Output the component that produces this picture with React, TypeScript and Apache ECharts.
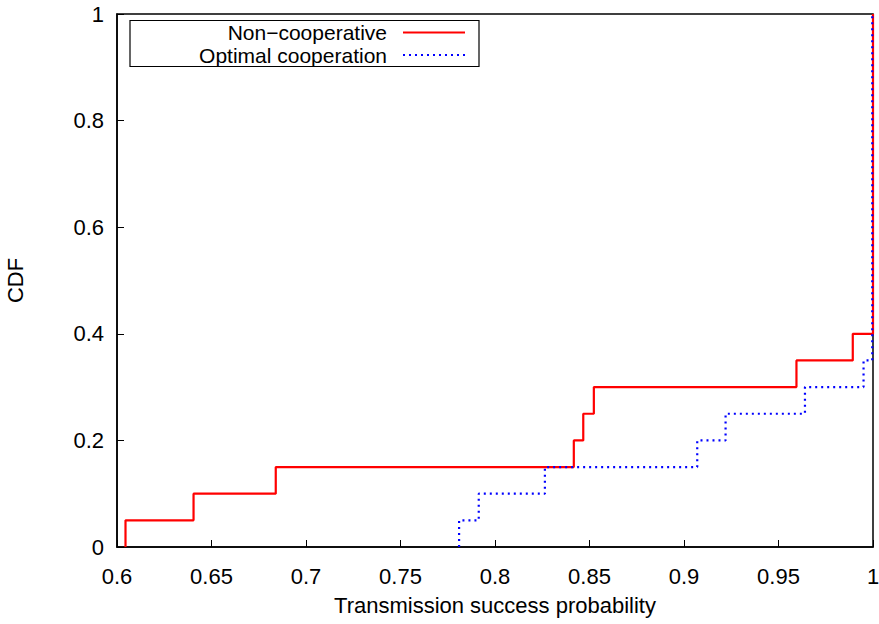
import React, { useEffect, useRef } from "react";
import * as echarts from "echarts";

// CDF step points: x = transmission success probability, y = cumulative fraction
const nonCoopX = [0.6045, 0.6045, 0.6405, 0.684, 0.8417, 0.8467, 0.8523, 0.9595, 0.9893, 1.0];
const nonCoopY = [0, 0.05, 0.1, 0.15, 0.2, 0.25, 0.3, 0.35, 0.4, 1.0];
const optCoopX = [0.781, 0.781, 0.7914, 0.8264, 0.907, 0.922, 0.964, 0.995, 0.9996];
const optCoopY = [0, 0.05, 0.1, 0.15, 0.2, 0.25, 0.3, 0.35, 1.0];

const seriesNames = ["Non\u2212cooperative", "Optimal cooperation"];
const xTitle = "Transmission success probability";
const yTitle = "CDF";

const FONT = "Liberation Sans";
const FS = 22;
const LEGEND_FS = 21;

export default function App() {
  const ref = useRef<HTMLDivElement>(null);
  useEffect(() => {
    if (!ref.current) return;
    const chart = echarts.init(ref.current, undefined, { renderer: "svg" });
    const zip = (xs: number[], ys: number[]) => xs.map((x, i) => [x, ys[i]]);
    chart.setOption({
      animation: false,
      backgroundColor: "#ffffff",
      textStyle: { fontFamily: FONT },
      grid: {
        left: 117,
        right: 6,
        top: 14,
        bottom: 77,
        show: true,
        borderColor: "#000",
        borderWidth: 1.5,
        containLabel: false,
        outerBoundsMode: "none",
      },
      xAxis: {
        type: "value",
        min: 0.6,
        max: 1,
        interval: 0.05,
        name: xTitle,
        nameLocation: "middle",
        nameGap: 47,
        nameTextStyle: { fontFamily: FONT, fontSize: FS, color: "#000" },
        axisLine: { show: true, lineStyle: { color: "#000", width: 1.5 } },
        axisTick: { show: true, inside: true, length: 7, lineStyle: { color: "#000", width: 1 } },
        axisLabel: {
          fontFamily: FONT,
          fontSize: FS,
          color: "#000",
          margin: 18,
          formatter: (v: number) => String(+v.toFixed(2)),
        },
        splitLine: { show: false },
      },
      yAxis: {
        type: "value",
        min: 0,
        max: 1,
        interval: 0.2,
        name: yTitle,
        nameLocation: "middle",
        nameGap: 91,
        nameRotate: 90,
        nameTextStyle: { fontFamily: FONT, fontSize: FS, color: "#000" },
        axisLine: { show: true, lineStyle: { color: "#000", width: 1.5 } },
        axisTick: { show: true, inside: true, length: 7, lineStyle: { color: "#000", width: 1 } },
        axisLabel: {
          fontFamily: FONT,
          fontSize: FS,
          color: "#000",
          margin: 13,
          formatter: (v: number) => String(+v.toFixed(1)),
        },
        splitLine: { show: false },
      },
      series: [
        {
          name: seriesNames[0],
          type: "line",
          step: "end",
          data: zip(nonCoopX, nonCoopY),
          showSymbol: false,
          symbol: "none",
          lineStyle: { color: "#ff0000", width: 2.2 },
          z: 2,
        },
        {
          name: seriesNames[1],
          type: "line",
          step: "end",
          data: zip(optCoopX, optCoopY),
          showSymbol: false,
          symbol: "none",
          lineStyle: { color: "#0000ff", width: 2.2, type: [2, 4] },
          z: 3,
        },
      ],
      graphic: [
        {
          type: "rect",
          shape: { x: 130, y: 20.5, width: 349, height: 46 },
          style: { fill: "#fff", stroke: "#000", lineWidth: 1.2 },
          z: 10,
        },
        {
          type: "text",
          x: 387,
          y: 32,
          style: {
            text: seriesNames[0],
            align: "right",
            verticalAlign: "middle",
            fontFamily: FONT,
            fontSize: LEGEND_FS,
            lineHeight: 20,
            fill: "#000",
          },
          z: 11,
        },
        {
          type: "text",
          x: 387,
          y: 55.5,
          style: {
            text: seriesNames[1],
            align: "right",
            verticalAlign: "middle",
            fontFamily: FONT,
            fontSize: LEGEND_FS,
            lineHeight: 20,
            fill: "#000",
          },
          z: 11,
        },
        {
          type: "line",
          shape: { x1: 403, y1: 32.5, x2: 465, y2: 32.5 },
          style: { stroke: "#ff0000", lineWidth: 2.2 },
          z: 11,
        },
        {
          type: "line",
          shape: { x1: 403, y1: 55, x2: 465, y2: 55 },
          style: { stroke: "#0000ff", lineWidth: 2.2, lineDash: [2, 4] },
          z: 11,
        },
      ],
    });
    return () => chart.dispose();
  }, []);
  return (
    <div
      ref={ref}
      style={{ position: "fixed", left: 0, top: 0, width: 879, height: 624, background: "#fff" }}
    />
  );
}
